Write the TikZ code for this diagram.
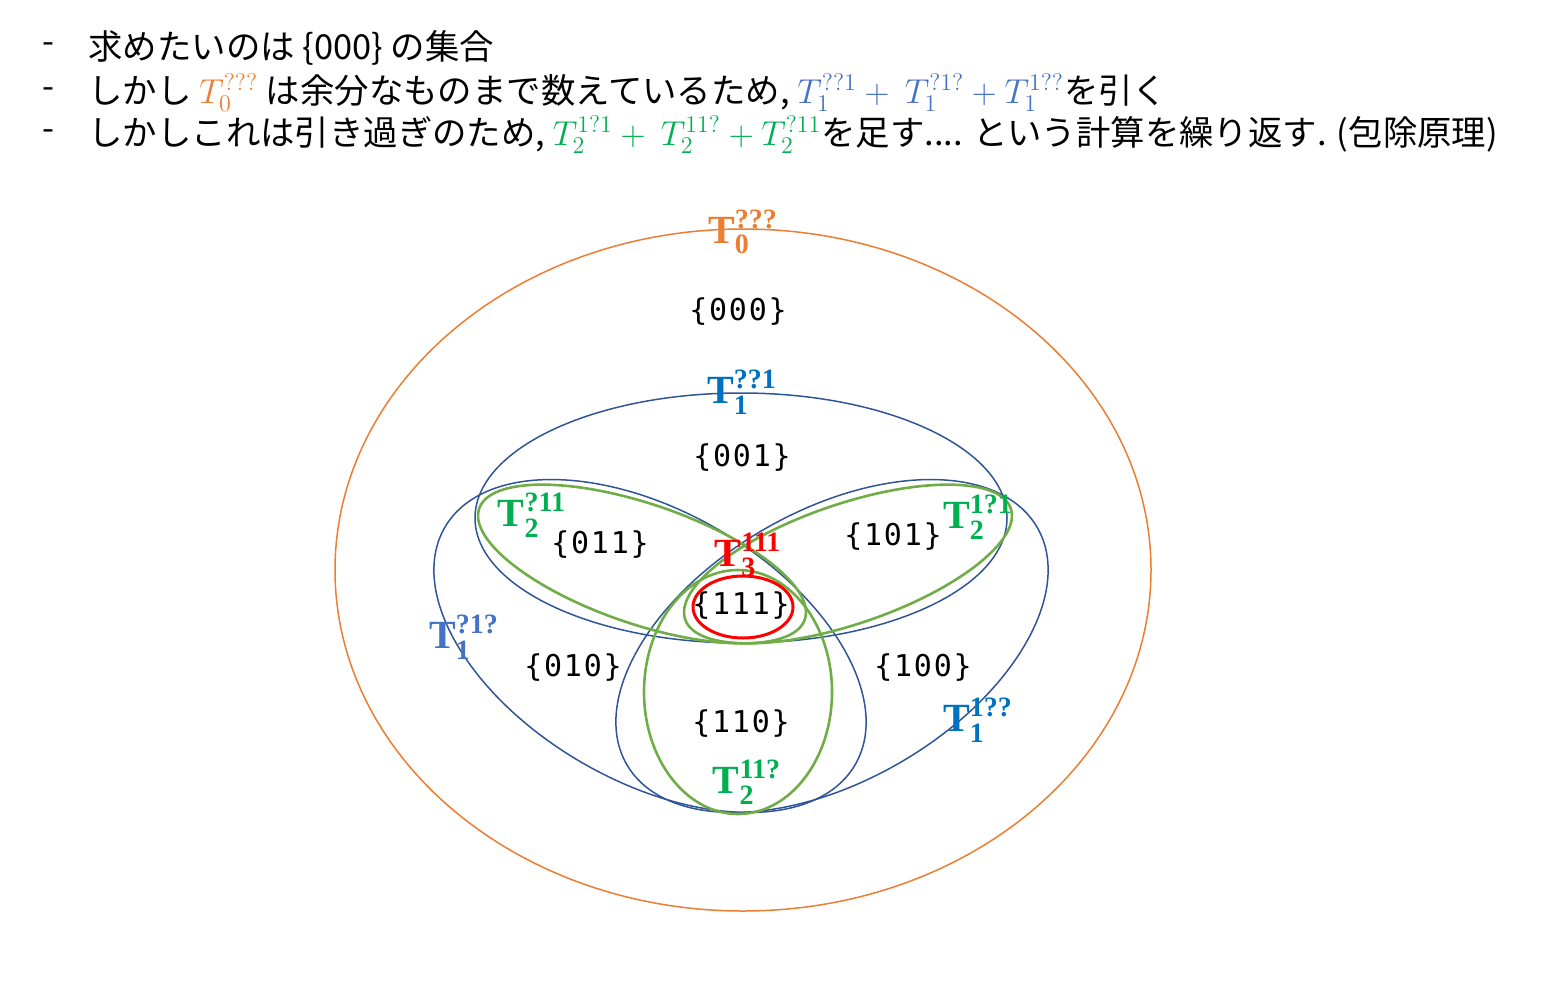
\documentclass[tikz,border=0pt]{standalone}
\usepackage{fontspec}
\usepackage{amsmath}
\usetikzlibrary{shapes, positioning}
\newfontfamily\jpfont{Noto Sans CJK JP}
\newfontfamily\labfont{Liberation Serif}
\newfontfamily\setfont[LetterSpace=6]{DejaVu Sans Mono}
\definecolor{orng}{HTML}{ED7D31}
\definecolor{dblue}{HTML}{2F5597}
\definecolor{lblue}{HTML}{4472C4}
\definecolor{mblue}{HTML}{0070C0}
\definecolor{lgreen}{HTML}{70AD47}
\definecolor{tgreen}{HTML}{00B050}
\definecolor{tred}{HTML}{FF0000}

\tikzset{
  textline/.style={font=\jpfont\fontsize{17.2pt}{20pt}\selectfont, anchor=west, inner sep=0pt},
  setlabel/.style={font=\setfont\fontsize{15pt}{18pt}\selectfont, inner sep=0pt},
  tlabel/.style={font=\labfont\bfseries\fontsize{20pt}{24pt}\selectfont, inner sep=0pt},
  blueset/.style={draw=dblue, line width=0.75pt},
  greenset/.style={draw=lgreen, line width=1.3pt}
}

\begin{document}
\begin{tikzpicture}[x=0.5pt, y=-0.5pt]
  \useasboundingbox (0,0) rectangle (1562,980);

  % explanation
  \node[textline] (d1) at (42,48) {-};
  \node[textline] (d2) at (42,93) {-};
  \node[textline] (d3) at (42,135) {-};
  \node[textline] (l1) at (88,48) {求めたいのは \{000\} の集合};
  \node[textline] (l2) at (88,93) {しかし {\color{orng}$T_0^{???}$} は余分なものまで数えているため, {\color{lblue}$T_1^{??1} +\ T_1^{?1?} + T_1^{1??}$}を引く};
  \node[textline] (l3) at (88,135) {しかしこれは引き過ぎのため, {\color{tgreen}$T_2^{1?1} +\ T_2^{11?} + T_2^{?11}$}を足す.... という計算を繰り返す. (包除原理)};

  % sets
  \draw[orng, line width=0.75pt] (743,570) ellipse [x radius=408, y radius=341];
  \draw[blueset] (741,518) ellipse [x radius=266, y radius=125];
  \draw[blueset, rotate around={-30:(650,646)}] (650,646) ellipse [x radius=237, y radius=135];
  \draw[blueset, rotate around={30:(832,646)}] (832,646) ellipse [x radius=237, y radius=135];
  \draw[greenset, rotate around={-18.8:(642,564)}] (642,564) ellipse [x radius=172, y radius=60];
  \draw[greenset, rotate around={18.8:(848,564)}] (848,564) ellipse [x radius=172, y radius=60];
  \draw[greenset] (738,692) ellipse [x radius=94, y radius=122];
  \draw[tred, line width=1.5pt] (743,607) ellipse [x radius=50, y radius=31];

  % labels
  \node[tlabel, text=orng] (t0) at (743,232) {T$_{\text{0}}^{\text{???}}$};
  \node[tlabel, text=mblue] (t1c) at (742,392) {T$_{\text{1}}^{\text{??1}}$};
  \node[tlabel, text=lblue] (t1b) at (464,637) {T$_{\text{1}}^{\text{?1?}}$};
  \node[tlabel, text=mblue] (t1a) at (978,720) {T$_{\text{1}}^{\text{1??}}$};
  \node[tlabel, text=tgreen] (t2bc) at (532,515) {T$_{\text{2}}^{\text{?11}}$};
  \node[tlabel, text=tgreen] (t2ac) at (978,517) {T$_{\text{2}}^{\text{1?1}}$};
  \node[tlabel, text=tgreen] (t2ab) at (747,782) {T$_{\text{2}}^{\text{11?}}$};
  \node[tlabel, text=tred] (t3) at (748,555) {T$_{\text{3}}^{\text{111}}$};

  \node[setlabel] (s000) at (738,312) {\{000\}};
  \node[setlabel] (s001) at (742,458) {\{001\}};
  \node[setlabel] (s011) at (600,545) {\{011\}};
  \node[setlabel] (s101) at (893,537) {\{101\}};
  \node[setlabel] (s111) at (741,606) {\{111\}};
  \node[setlabel] (s010) at (573,668) {\{010\}};
  \node[setlabel] (s100) at (923,668) {\{100\}};
  \node[setlabel] (s110) at (741,724) {\{110\}};
\end{tikzpicture}
\end{document}
